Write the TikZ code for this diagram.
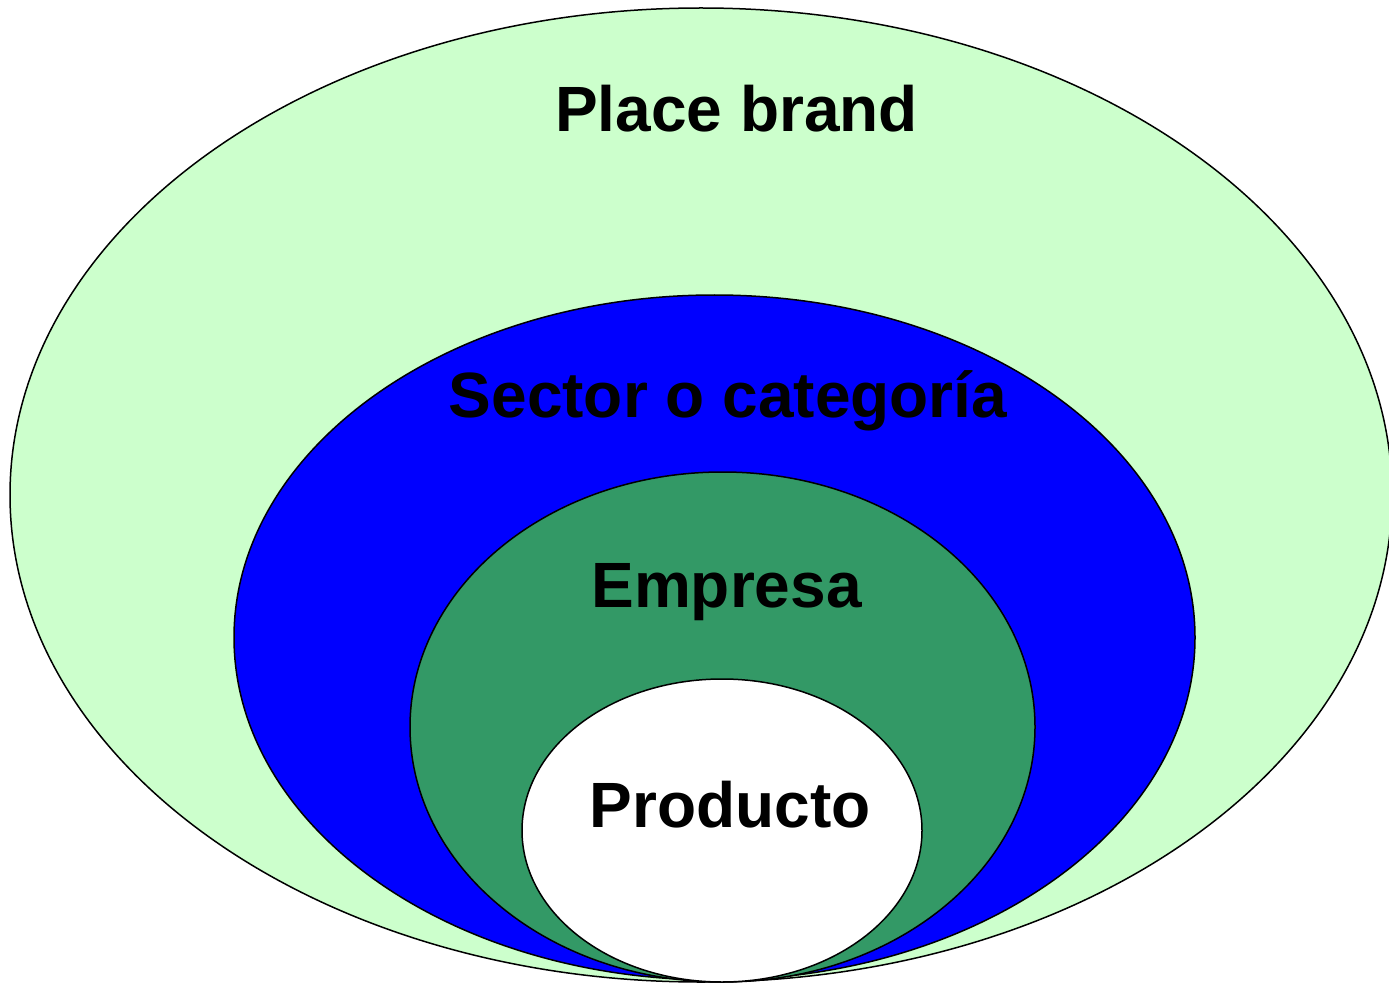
\documentclass[tikz,border=0pt]{standalone}
\usepackage{fontspec}
\setmainfont{Liberation Sans}
\usetikzlibrary{shapes.geometric}
\definecolor{outergreen}{HTML}{CCFFCC}
\definecolor{sectorblue}{HTML}{0000FF}
\definecolor{empgreen}{HTML}{339966}
\tikzset{
  ring/.style={ellipse, draw=black, line width=1.5pt, inner sep=0pt},
  lbl/.style={anchor=base, inner sep=0pt, font=\fontsize{64}{70}\selectfont\bfseries, text=black}
}
\begin{document}
\begin{tikzpicture}[x=1pt,y=-1pt]
\useasboundingbox (0,0) rectangle (1389,984);
\node[ring, fill=outergreen, minimum width=1382pt, minimum height=974pt] (outer) at (701,495) {};
\node[ring, fill=sectorblue, minimum width=961pt, minimum height=685pt] (sector) at (714.5,637.5) {};
\node[ring, fill=empgreen, minimum width=625pt, minimum height=510pt] (empresa) at (722.5,727) {};
\node[ring, fill=white, minimum width=400pt, minimum height=303pt] (producto) at (722,830.5) {};
\node[lbl] (tplace) at (736.5,132) {Place brand};
\node[lbl] (tsector) at (728,417) {Sector o categoría};
\node[lbl] (tempresa) at (726.5,607) {Empresa};
\node[lbl] (tproducto) at (730,827) {Producto};
\end{tikzpicture}
\end{document}
